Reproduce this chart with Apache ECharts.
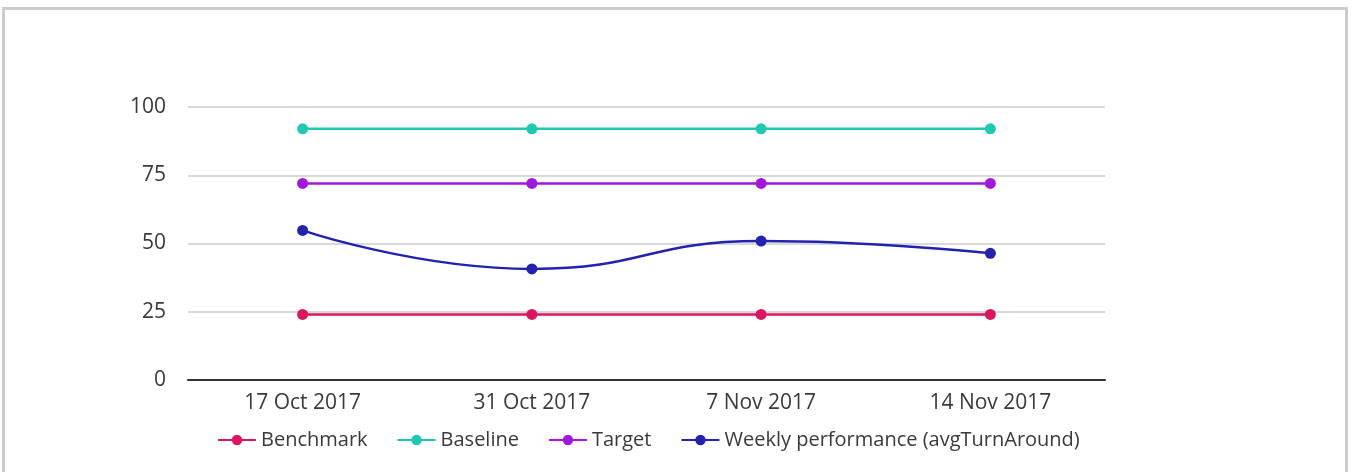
<!DOCTYPE html>
<html>
<head>
<meta charset="utf-8">
<script src="https://cdn.jsdelivr.net/npm/echarts@6/dist/echarts.min.js"></script>
<style>
  html, body { margin: 0; padding: 0; background: #ffffff; }
  #card {
    position: absolute; left: 2px; top: 7px; width: 1346px; height: 480px;
    border: 3px solid #cccccc; box-sizing: border-box; background: #ffffff;
  }
  #chart { position: absolute; left: 0; top: 0; width: 1354px; height: 472px; }
</style>
</head>
<body>
<div id="card"></div>
<div id="chart"></div>
<script>
// Weekly turnaround figures against fixed reference levels
const categories = ['17 Oct 2017', '31 Oct 2017', '7 Nov 2017', '14 Nov 2017'];
const benchmark = [24, 24, 24, 24];
const baseline = [92, 92, 92, 92];
const target = [72, 72, 72, 72];
const weekly = [54.8, 40.7, 50.9, 46.4];
const yTicks = [0, 25, 50, 75, 100];

const font = '"Open Sans", "Noto Sans", sans-serif';
const textColor = '#3a3a3a';

function lineSeries(name, data, color, smooth) {
  return {
    name: name,
    type: 'line',
    data: data,
    smooth: smooth,
    symbol: 'circle',
    symbolSize: 11,
    showAllSymbol: true,
    lineStyle: { color: color, width: 2.5 },
    itemStyle: { color: color },
    emphasis: { disabled: true }
  };
}

const chart = echarts.init(document.getElementById('chart'), null, { renderer: 'canvas' });
chart.setOption({
  backgroundColor: 'transparent',
  animation: false,
  grid: { left: 188, right: 249, top: 107, bottom: 92, containLabel: false },
  legend: {
    left: 212,
    top: 425,
    itemWidth: 38,
    itemHeight: 13,
    itemGap: 29,
    textStyle: { fontFamily: font, fontSize: 20, color: textColor },
    data: ['Benchmark', 'Baseline', 'Target', 'Weekly performance (avgTurnAround)']
  },
  xAxis: {
    type: 'category',
    data: categories,
    boundaryGap: true,
    axisLine: { show: true, lineStyle: { color: '#333333', width: 2 } },
    axisTick: { show: false },
    axisLabel: { fontFamily: font, fontSize: 21, color: textColor, margin: 13 }
  },
  yAxis: {
    type: 'value',
    min: yTicks[0],
    max: yTicks[yTicks.length - 1],
    interval: 25,
    axisLine: { show: false },
    axisTick: { show: false },
    axisLabel: { fontFamily: font, fontSize: 21, color: textColor, margin: 22 },
    splitLine: {
      show: true,
      lineStyle: { color: '#cccccc', width: 1.5 },
      showMinLine: false
    }
  },
  series: [
    lineSeries('Benchmark', benchmark, '#dc1560', false),
    lineSeries('Baseline', baseline, '#1fc8b0', false),
    lineSeries('Target', target, '#a118dc', false),
    lineSeries('Weekly performance (avgTurnAround)', weekly, '#2222b0', true)
  ]
});
</script>
</body>
</html>
